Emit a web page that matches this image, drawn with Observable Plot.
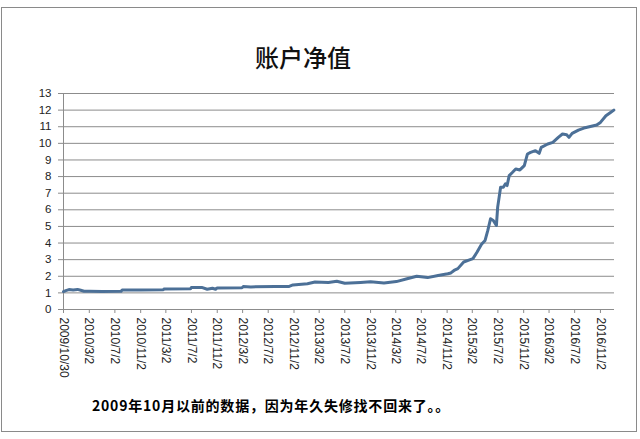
<!DOCTYPE html>
<html>
<head>
<meta charset="utf-8">
<script src="https://cdn.jsdelivr.net/npm/d3@7"></script>
<script src="https://cdn.jsdelivr.net/npm/@observablehq/plot@0.6"></script>
<style>
  html, body { margin: 0; padding: 0; background: #fff; }
  #wrap { position: relative; width: 640px; height: 439px; overflow: hidden; background: #fff; }
  #frame { position: absolute; left: 1px; top: 7px; width: 636px; height: 425px; border: 1px solid #8a8a8a; box-sizing: border-box; }
  #title { position: absolute; left: 0; top: 40px; width: 606px; text-align: center; font-family: "Noto Sans CJK SC", sans-serif; font-size: 24px; font-weight: 500; color: #111; line-height: 34px; }
  #chart { position: absolute; left: 0; top: 80px; }
  #caption { position: absolute; left: 92px; top: 395px; font-family: "Noto Sans CJK SC", sans-serif; font-size: 14px; font-weight: 700; color: #000; line-height: 20px; white-space: nowrap; letter-spacing: 0.8px; font-feature-settings: "halt" 0, "palt" 0; }
</style>
</head>
<body>
<div id="wrap">
  <div id="frame"></div>
  <div id="title">账户净值</div>
  <div id="chart"></div>
  <div id="caption">2009年10月以前的数据，因为年久失修找不回来了。。</div>
</div>
<script>
const dates = [
  "2009-10-30","2009-11-10","2009-11-25","2009-12-15","2010-01-05","2010-01-20","2010-02-05","2010-03-02",
  "2010-05-01","2010-08-01","2010-08-06","2010-11-02","2011-02-18","2011-02-22","2011-06-28","2011-07-02",
  "2011-08-20","2011-09-15","2011-10-10","2011-10-25","2011-11-02","2012-02-28","2012-03-05","2012-04-10",
  "2012-08-05","2012-10-10","2012-10-28","2013-01-05","2013-02-10","2013-04-15","2013-05-25","2013-07-02",
  "2013-09-15","2013-11-02","2014-01-05","2014-03-05","2014-04-25","2014-06-10","2014-08-01","2014-09-20",
  "2014-11-05","2014-11-20","2014-12-05","2014-12-23","2015-01-20","2015-02-20","2015-03-05","2015-03-25",
  "2015-04-15","2015-05-02","2015-05-15","2015-05-28","2015-06-10","2015-06-25","2015-07-01","2015-07-15",
  "2015-07-28","2015-08-07","2015-08-15","2015-08-25","2015-09-10","2015-09-25","2015-10-15","2015-11-05",
  "2015-11-20","2015-12-05","2015-12-28","2016-01-15","2016-01-25","2016-02-25","2016-03-20","2016-04-15",
  "2016-05-05","2016-05-25","2016-06-05","2016-06-20","2016-07-20","2016-08-15","2016-09-10","2016-10-15",
  "2016-11-02","2016-11-28","2016-12-20","2017-01-05"
];
const values = [
  1.08,1.14,1.20,1.18,1.21,1.16,1.10,1.10,
  1.09,1.10,1.18,1.18,1.19,1.24,1.25,1.33,
  1.33,1.22,1.28,1.22,1.30,1.31,1.38,1.36,
  1.38,1.39,1.48,1.55,1.65,1.63,1.70,1.58,
  1.63,1.67,1.60,1.68,1.85,2.00,1.92,2.05,
  2.15,2.20,2.35,2.46,2.86,3.00,3.06,3.46,
  3.92,4.16,4.76,5.46,5.36,5.06,6.16,7.36,
  7.36,7.56,7.46,8.06,8.26,8.46,8.40,8.66,
  9.36,9.46,9.56,9.40,9.76,9.96,10.06,10.36,
  10.56,10.52,10.36,10.60,10.80,10.92,11.00,11.10,
  11.26,11.66,11.86,12.00
];
const tickLabels = [
  "2009/10/30","2010/3/2","2010/7/2","2010/11/2","2011/3/2","2011/7/2","2011/11/2",
  "2012/3/2","2012/7/2","2012/11/2","2013/3/2","2013/7/2","2013/11/2","2014/3/2",
  "2014/7/2","2014/11/2","2015/3/2","2015/7/2","2015/11/2","2016/3/2","2016/7/2","2016/11/2"
];
const yTicks = d3.range(0, 14);

const parse = d3.timeParse("%Y/%m/%d");
const tickDates = tickLabels.map(parse);
const labelOf = new Map(tickDates.map((d, i) => [+d, tickLabels[i]]));
const data = dates.map((d, i) => ({date: new Date(d + "T00:00:00"), value: values[i]}));
const xStart = tickDates[0];
const xEnd = new Date("2017-01-08T00:00:00");

const chart = Plot.plot({
  width: 640,
  height: 300,
  marginLeft: 63,
  marginRight: 26,
  marginTop: 13,
  marginBottom: 71,
  style: {fontFamily: "'Liberation Sans', sans-serif", background: "transparent", color: "#222", overflow: "visible"},
  x: {type: "time", domain: [xStart, xEnd]},
  y: {domain: [0, 13]},
  marks: [
    Plot.ruleY(yTicks.filter(d => d > 0), {stroke: "#8c8c8c", strokeWidth: 1, strokeOpacity: 1}),
    Plot.ruleY([0], {stroke: "#8c8c8c", strokeWidth: 1}),
    Plot.ruleX([xStart], {y1: 0, y2: 13, stroke: "#8c8c8c", strokeWidth: 1}),
    Plot.axisY({ticks: yTicks, tickSize: 5, tickPadding: 7, fontSize: 11.5, stroke: "#8c8c8c", label: null, tickFormat: d => String(d)}),
    Plot.axisX({ticks: tickDates, tickSize: 4, tickPadding: 4, tickRotate: 90, fontSize: 12, stroke: "#8c8c8c", label: null, tickFormat: d => labelOf.get(+d)}),
    Plot.line(data, {x: "date", y: "value", stroke: "#4c7097", strokeWidth: 3, strokeLinejoin: "round", strokeLinecap: "round"})
  ]
});
document.getElementById("chart").appendChild(chart);
</script>
</body>
</html>
